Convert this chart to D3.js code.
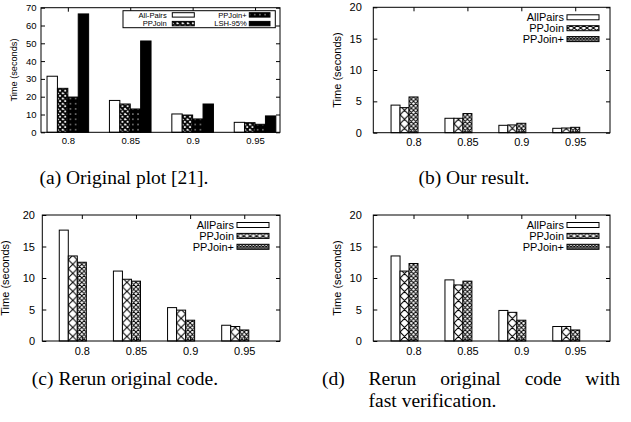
<!DOCTYPE html>
<html>
<head>
<meta charset="utf-8">
<script src="https://cdn.jsdelivr.net/npm/d3@7"></script>
<style>
  body { margin: 0; background: #fff; }
  svg { display: block; }
  .tick text { font-family: "Liberation Sans", Arial, sans-serif; fill: #000; }
  .caption { font-family: "Liberation Serif", "Times New Roman", serif; font-size: 19.5px; fill: #000; }
</style>
</head>
<body>
<svg id="chart" width="631" height="422"></svg>
<script>
// x categories (similarity threshold)
const thresholds = ['0.8', '0.85', '0.9', '0.95'];

// (a) original plot
const origNames = ['All-Pairs', 'PPJoin', 'PPJoin+', 'LSH-95%'];
const origAllPairs = [31.5, 17.9, 10.3, 5.6];
const origPPJoin = [24.7, 15.9, 9.7, 5.4];
const origPPJoinPlus = [19.8, 13.1, 7.5, 4.5];
const origLSH95 = [66.5, 51.3, 15.9, 9.2];

// (b), (c), (d)
const names = ['AllPairs', 'PPJoin', 'PPJoin+'];
const oursAllPairs = [4.4, 2.3, 1.18, 0.7];
const oursPPJoin = [4.0, 2.3, 1.24, 0.75];
const oursPPJoinPlus = [5.7, 3.05, 1.5, 0.86];

const rerunAllPairs = [17.6, 11.1, 5.3, 2.5];
const rerunPPJoin = [13.5, 9.8, 4.9, 2.3];
const rerunPPJoinPlus = [12.5, 9.5, 3.3, 1.75];

const fastAllPairs = [13.5, 9.7, 4.85, 2.3];
const fastPPJoin = [11.1, 8.9, 4.55, 2.3];
const fastPPJoinPlus = [12.3, 9.5, 3.3, 1.75];

const yTicks70 = [0, 10, 20, 30, 40, 50, 60, 70];
const yTicks20 = [0, 5, 10, 15, 20];

const svg = d3.select('#chart');
const defs = svg.append('defs');

// hatch helpers
function crossPattern(id, x, y, w, h, sw) {
  const p = defs.append('pattern').attr('id', id)
    .attr('patternUnits', 'userSpaceOnUse')
    .attr('x', x).attr('y', y).attr('width', w).attr('height', h);
  p.append('rect').attr('width', w).attr('height', h).attr('fill', '#fff');
  p.append('path')
    .attr('d', `M0,0L${w},${h}M${w},0L0,${h}M${-w},0L${w},${2*h}M${2*w},0L0,${2*h}`)
    .attr('stroke', '#000').attr('stroke-width', sw).attr('fill', 'none');
}
function dotPattern(id, x, y, s) {
  const p = defs.append('pattern').attr('id', id)
    .attr('patternUnits', 'userSpaceOnUse')
    .attr('x', x).attr('y', y).attr('width', s).attr('height', s);
  p.append('rect').attr('width', s).attr('height', s).attr('fill', '#000');
  p.append('rect').attr('x', s / 2 - 0.7).attr('y', s / 2 - 0.7)
    .attr('width', 1.4).attr('height', 1.4).attr('fill', '#9a9a9a');
}

const panels = [
  { id: 'a', left: 41, right: 280, top: 7.7, bottom: 132.3, xdom: [-0.43, 3.40],
    ymax: 70, yticks: yTicks70, names: origNames,
    series: [origAllPairs, origPPJoin, origPPJoinPlus, origLSH95],
    slotShift: 2, font: 9.5, ygap: 4.5, title: { x: 13.3, size: 9.2 } },
  { id: 'b', left: 373.3, right: 610, top: 7.3, bottom: 132.7, xdom: [-0.746, 3.645],
    ymax: 20, yticks: yTicks20, names: names,
    series: [oursAllPairs, oursPPJoin, oursPPJoinPlus],
    slotShift: 2.5, font: 11, ygap: 11.5, title: { x: 336.7, size: 11 } },
  { id: 'c', left: 42.3, right: 280, top: 215, bottom: 341, xdom: [-0.73, 3.66],
    ymax: 20, yticks: yTicks20, names: names,
    series: [rerunAllPairs, rerunPPJoin, rerunPPJoinPlus],
    slotShift: 2.5, font: 11, ygap: 7.3, title: { x: 5.5, size: 11 } },
  { id: 'd', left: 373.3, right: 610, top: 215, bottom: 341, xdom: [-0.746, 3.645],
    ymax: 20, yticks: yTicks20, names: names,
    series: [fastAllPairs, fastPPJoin, fastPPJoinPlus],
    slotShift: 2.5, font: 11, ygap: 11.5, title: { x: 336.7, size: 11 } }
];

panels.forEach(p => {
  const x = d3.scaleLinear().domain(p.xdom).range([p.left, p.right]);
  const y = d3.scaleLinear().domain([0, p.ymax]).range([p.bottom, p.top]);
  const bw = (x(1) - x(0)) / 6;
  const slot0 = x(0) - p.slotShift * bw;
  const g = svg.append('g');

  // fills for each series
  let fills;
  if (p.id === 'a') {
    crossPattern('chk-a', slot0, p.bottom, bw / 2, bw / 2, 1.8);
    dotPattern('dot-a', slot0, p.bottom, bw / 2);
    fills = ['#fff', 'url(#chk-a)', 'url(#dot-a)', '#000'];
  } else {
    crossPattern('xb-' + p.id, slot0, p.bottom, bw, bw, 1.1);
    crossPattern('xf-' + p.id, slot0, p.bottom, bw / 2, bw / 2, 1.0);
    fills = ['#fff', `url(#xb-${p.id})`, `url(#xf-${p.id})`];
  }

  // bars
  p.series.forEach((vals, k) => {
    g.append('g').selectAll('rect')
      .data(vals)
      .join('rect')
      .attr('x', (d, i) => x(i) - p.slotShift * bw + k * bw)
      .attr('y', d => y(d))
      .attr('width', bw)
      .attr('height', d => y(0) - y(d))
      .attr('fill', fills[k])
      .attr('stroke', '#000')
      .attr('stroke-width', 1);
  });

  // axes, ticks pointing inwards, mirrored on top/right
  const idx = thresholds.map((t, i) => i);
  const axB = g.append('g').attr('transform', `translate(0,${p.bottom})`)
    .call(d3.axisBottom(x).tickValues(idx).tickFormat(i => thresholds[i]).tickSize(-4).tickPadding(p.id === 'a' ? 5 : 6));
  const axT = g.append('g').attr('transform', `translate(0,${p.top})`)
    .call(d3.axisTop(x).tickValues(idx).tickFormat('').tickSize(-4));
  const axL = g.append('g').attr('transform', `translate(${p.left},0)`)
    .call(d3.axisLeft(y).tickValues(p.yticks).tickSize(-4).tickPadding(p.ygap));
  const axR = g.append('g').attr('transform', `translate(${p.right},0)`)
    .call(d3.axisRight(y).tickValues(p.yticks).tickFormat('').tickSize(-4));
  [axB, axT, axL, axR].forEach(a => {
    a.select('.domain').remove();
    a.selectAll('.tick line').attr('stroke', '#000');
    a.selectAll('.tick text').attr('font-size', p.font);
    a.attr('font-family', null).attr('font-size', null);
  });

  g.append('rect')
    .attr('x', p.left).attr('y', p.top)
    .attr('width', p.right - p.left).attr('height', p.bottom - p.top)
    .attr('fill', 'none').attr('stroke', '#000').attr('stroke-width', 1);

  // y title
  const cy = (p.top + p.bottom) / 2;
  g.append('text')
    .attr('transform', `translate(${p.title.x},${cy}) rotate(-90)`)
    .attr('text-anchor', 'middle').attr('dy', '0.35em')
    .attr('font-family', 'Liberation Sans, Arial, sans-serif')
    .attr('font-size', p.title.size)
    .text('Time (seconds)');

  // legend
  if (p.id === 'a') {
    g.append('rect').attr('x', 123).attr('y', 10.7).attr('width', 152.3).attr('height', 17)
      .attr('fill', '#fff').attr('stroke', '#000').attr('stroke-width', 1);
    const items = p.names.map((n, k) => ({ n, k, col: Math.floor(k / 2), row: k % 2 }));
    const lg = g.append('g').selectAll('g').data(items).join('g')
      .attr('transform', d => `translate(${d.col ? 246.7 : 166.7},${d.row ? 23.6 : 14.9})`);
    lg.append('text').attr('text-anchor', 'end').attr('dy', '0.35em')
      .attr('font-family', 'Liberation Sans, Arial, sans-serif').attr('font-size', 7.6)
      .text(d => d.n);
    lg.append('rect').attr('x', d => d.col ? 2.6 : 5.6).attr('y', -2.2)
      .attr('width', d => d.col ? 20.7 : 22).attr('height', 4.4)
      .attr('fill', d => fills[d.k]).attr('stroke', '#000').attr('stroke-width', 1);
  } else {
    const tx = p.right - 46;
    crossPattern('lxb-' + p.id, tx + 3, p.top + 7.5, 6.4, 5, 1.0);
    crossPattern('lxf-' + p.id, tx + 3, p.top + 7.5, 3.2, 2.5, 0.9);
    const lfills = ['#fff', `url(#lxb-${p.id})`, `url(#lxf-${p.id})`];
    const lg = g.append('g').selectAll('g').data(p.names).join('g')
      .attr('transform', (d, k) => `translate(${tx},${p.top + 10 + k * 10.9})`);
    lg.append('text').attr('text-anchor', 'end').attr('dy', '0.35em')
      .attr('font-family', 'Liberation Sans, Arial, sans-serif').attr('font-size', 11)
      .text(d => d);
    lg.append('rect').attr('x', 3).attr('y', -2.5).attr('width', 32).attr('height', 5)
      .attr('fill', (d, k) => lfills[k]).attr('stroke', '#000').attr('stroke-width', 1);
  }
});

// captions
svg.append('text').attr('class', 'caption').attr('x', 124).attr('y', 184)
  .attr('text-anchor', 'middle').text('(a) Original plot [21].');
svg.append('text').attr('class', 'caption').attr('x', 474).attr('y', 184)
  .attr('text-anchor', 'middle').text('(b) Our result.');
svg.append('text').attr('class', 'caption').attr('x', 125).attr('y', 385)
  .attr('text-anchor', 'middle').text('(c) Rerun original code.');

// (d) first line justified over the full width
const dWords = ['(d)', 'Rerun', 'original', 'code', 'with'];
const dStart = 322, dEnd = 620;
const measure = s => {
  const t = svg.append('text').attr('class', 'caption').text(s);
  const len = t.node().getComputedTextLength();
  t.remove();
  return len;
};
const widths = dWords.map(measure);
const gap = (dEnd - dStart - d3.sum(widths)) / (dWords.length - 1);
let cx = dStart;
const wordX = widths.map(w => { const p = cx; cx += w + gap; return p; });
svg.append('g').selectAll('text').data(dWords).join('text')
  .attr('class', 'caption').attr('x', (d, i) => wordX[i]).attr('y', 385).text(d => d);
svg.append('text').attr('class', 'caption').attr('x', wordX[1]).attr('y', 407)
  .text('fast verification.');
</script>
</body>
</html>
